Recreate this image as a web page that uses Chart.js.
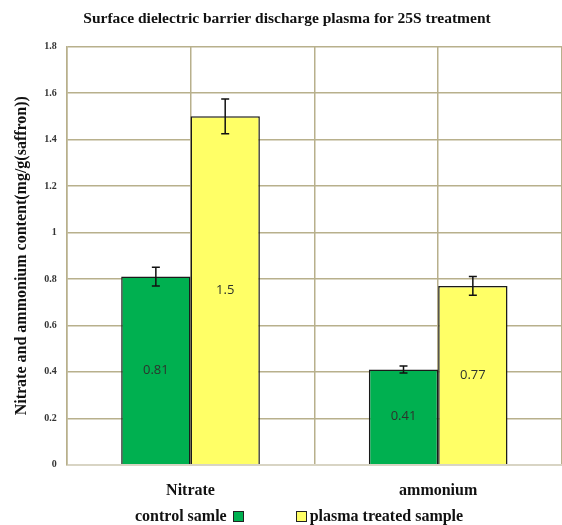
<!DOCTYPE html>
<html>
<head>
<meta charset="utf-8">
<script src="https://cdn.jsdelivr.net/npm/chart.js@4/dist/chart.umd.min.js"></script>
<style>
  html, body { margin: 0; padding: 0; background: #fff; }
  #wrap { position: relative; width: 562px; height: 525px; }
  #chart { position: absolute; left: 0; top: 0; }
  #legend {
    position: absolute; left: 135px; top: 507px;
    font: bold 16px "Liberation Serif", serif; color: #111;
    display: flex; align-items: center; white-space: nowrap;
  }
  #legend .box { display: inline-block; width: 9px; height: 9px; border: 1px solid #222; }
</style>
</head>
<body>
<div id="wrap">
  <canvas id="chart" width="562" height="525"></canvas>
  <div id="legend"></div>
</div>
<script>
// ---- data ----
const categories = ["Nitrate", "ammonium"];
const seriesNames = ["control samle", "plasma treated sample"];
const controlValues = [0.81, 0.41];
const plasmaValues = [1.5, 0.77];
const controlErrors = [0.04, 0.015];
const plasmaErrors = [0.075, 0.04];
const yTicks = [0, 0.2, 0.4, 0.6, 0.8, 1, 1.2, 1.4, 1.6, 1.8];

const colors = ["#00b050", "#ffff66"];
const gridColor = "#b8b08c";
const serif = "'Liberation Serif', 'DejaVu Serif', serif";

// error bars + value labels drawn on top of the bars
const barExtras = {
  id: "barExtras",
  afterDatasetsDraw(chart) {
    const ctx = chart.ctx;
    const y = chart.scales.y;
    const errs = [controlErrors, plasmaErrors];
    chart.data.datasets.forEach((ds, di) => {
      chart.getDatasetMeta(di).data.forEach((bar, i) => {
        const v = ds.data[i];
        const e = errs[di][i];
        // value label in middle of bar
        ctx.save();
        ctx.fillStyle = "#2d332d";
        ctx.font = "13px 'Open Sans', 'Liberation Sans', sans-serif";
        ctx.textAlign = "center";
        ctx.textBaseline = "middle";
        ctx.fillText(String(v), bar.x, (bar.y + bar.base) / 2);
        // error bar
        const top = y.getPixelForValue(v + e);
        const bot = y.getPixelForValue(v - e);
        ctx.strokeStyle = "#111";
        ctx.lineWidth = 1.5;
        ctx.beginPath();
        ctx.moveTo(bar.x, top); ctx.lineTo(bar.x, bot);
        ctx.moveTo(bar.x - 4, top); ctx.lineTo(bar.x + 4, top);
        ctx.moveTo(bar.x - 4, bot); ctx.lineTo(bar.x + 4, bot);
        ctx.stroke();
        ctx.restore();
      });
    });
  }
};

const chart = new Chart(document.getElementById("chart"), {
  type: "bar",
  data: {
    labels: categories,
    datasets: [
      { label: seriesNames[0], data: controlValues, backgroundColor: colors[0] },
      { label: seriesNames[1], data: plasmaValues, backgroundColor: colors[1] }
    ]
  },
  options: {
    responsive: false,
    animation: false,
    layout: { padding: { left: 12, right: 0, top: 4, bottom: 9 } },
    datasets: {
      bar: {
        borderColor: "#1a1a1a",
        borderWidth: 1.5,
        barPercentage: 1.0,
        categoryPercentage: 0.56
      }
    },
    plugins: {
      legend: { display: false },
      tooltip: { enabled: false },
      title: {
        display: true,
        text: "Surface dielectric barrier discharge plasma for 25S treatment",
        color: "#111",
        font: { family: serif, size: 15.5, weight: "bold" },
        padding: { top: 6, bottom: 18 }
      }
    },
    scales: {
      x: {
        grid: { color: gridColor, lineWidth: 1.5, drawTicks: false },
        border: { color: "#d8d4c4", width: 1.5 },
        ticks: {
          color: "#111",
          padding: 16,
          font: { family: serif, size: 16, weight: "bold" }
        }
      },
      x2: {
        position: "top",
        labels: categories,
        offset: true,
        grid: { offset: false, color: gridColor, lineWidth: 1.5, drawTicks: false },
        border: { display: false },
        ticks: { display: false }
      },
      y: {
        min: 0,
        max: 1.8,
        afterBuildTicks: axis => { axis.ticks = yTicks.map(v => ({ value: v })); },
        grid: { color: gridColor, lineWidth: 1.5, drawTicks: false },
        border: { color: gridColor, width: 1.5 },
        ticks: {
          color: "#333",
          padding: 10,
          font: { family: serif, size: 10, weight: "bold" },
          callback: v => String(+v.toFixed(1))
        },
        title: {
          display: true,
          text: "Nitrate and ammonium content(mg/g(saffron))",
          color: "#111",
          font: { family: serif, size: 16, weight: "bold" },
          padding: { top: 0, bottom: 3 }
        }
      }
    }
  },
  plugins: [barExtras]
});

// legend below the axis, built from the dataset names and colours
const legend = document.getElementById("legend");
chart.data.datasets.forEach((ds, i) => {
  const text = document.createElement("span");
  text.textContent = ds.label;
  const box = document.createElement("span");
  box.className = "box";
  box.style.background = ds.backgroundColor;
  if (i === 0) {
    box.style.margin = "0 52px 0 6px";
    legend.appendChild(text); legend.appendChild(box);
  } else {
    box.style.marginRight = "3px";
    legend.appendChild(box); legend.appendChild(text);
  }
});
</script>
</body>
</html>
